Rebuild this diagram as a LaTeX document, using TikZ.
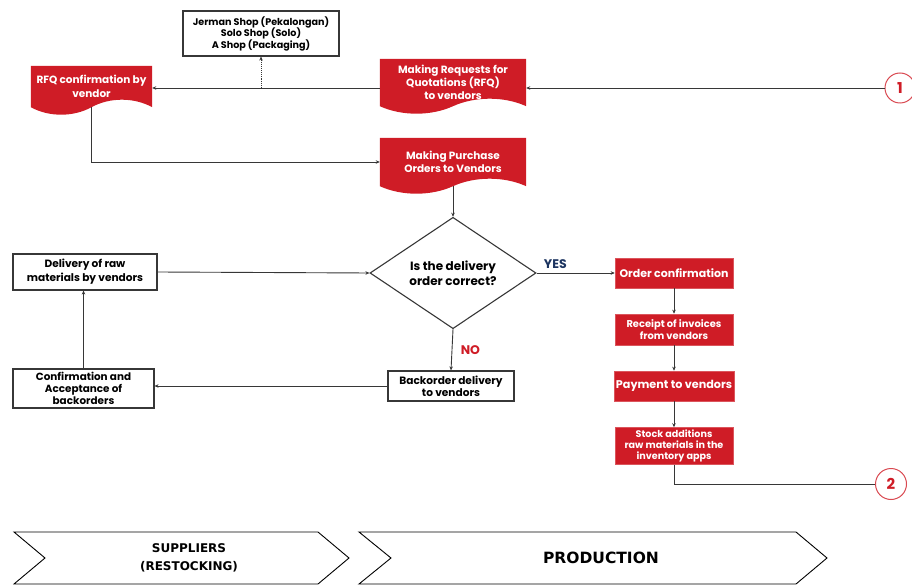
\documentclass[tikz,border=0pt]{standalone}
\usepackage{fontspec}
\setmainfont{Poppins}
\newfontfamily\chevfont{DejaVu Sans}
\usetikzlibrary{shapes.geometric,arrows.meta,calc,backgrounds}
\definecolor{myred}{RGB}{207,28,38}
\definecolor{linegray}{RGB}{55,55,55}
\definecolor{yesblue}{RGB}{28,52,96}
\newcommand\docfill[2]{%
\begin{pgfonlayer}{background}
\fill[myred] let \p1=(#1.south west), \p2=(#1.north east), \n1={\x2-\x1} in
 (\x1,\y2) -- (\x2,\y2) -- (\x2,\y1)
 .. controls ({\x2-0.15*\n1},{\y1+#2}) and ({\x2-0.35*\n1},{\y1+#2}) .. ({\x1+0.5*\n1},\y1)
 .. controls ({\x1+0.35*\n1},{\y1-#2}) and ({\x1+0.15*\n1},{\y1-#2}) .. (\x1,\y1) -- cycle;
\end{pgfonlayer}}
\newcommand\fsz[2]{\fontsize{#1}{#2}\selectfont\bfseries}
\begin{document}
\begin{tikzpicture}[x=1pt,y=-1pt,
  font=\fsz{10.5}{13},
  conn/.style={draw=linegray, line width=0.9pt, -{Stealth[length=4pt,width=3.5pt]}},
  whitebox/.style={draw=linegray, line width=1.1pt, fill=white, align=center, inner sep=2pt},
  redbox/.style={fill=myred, draw=myred!75!white, line width=0.6pt, text=white, align=center, minimum width=118pt, inner sep=2pt},
  docnode/.style={text=white, align=center, inner sep=0pt},
  circ/.style={circle, draw=myred!80!white, line width=1pt, text=myred, font=\fsz{15}{16}, minimum size=30pt, inner sep=0pt},
  chev/.style={draw=black, line width=0.9pt, fill=white},
  chevtext/.style={font=\chevfont\fontsize{12}{18}\selectfont\bfseries, align=center}
]
\useasboundingbox (0,0) rectangle (912,585);

% document-shaped red nodes
\node[docnode, minimum width=121pt, minimum height=41pt, font=\fsz{10.5}{14}] (rfqc) at (91.5,86.5) {RFQ confirmation by\\vendor};
\node[docnode, minimum width=146pt, minimum height=47pt] (mkreq) at (453,82.5) {Making Requests for\\Quotations (RFQ)\\to vendors};
\node[docnode, minimum width=146pt, minimum height=48pt] (mkpo) at (453,162) {Making Purchase\\Orders to Vendors};
\docfill{rfqc}{10pt}
\docfill{mkreq}{10pt}
\docfill{mkpo}{10pt}

% white boxes
\node[whitebox, minimum width=156pt, minimum height=45pt, font=\fsz{9.6}{11.5}] (shop) at (261,33.5) {Jerman Shop (Pekalongan)\\Solo Shop (Solo)\\A Shop (Packaging)};
\node[whitebox, minimum width=144pt, minimum height=36pt, font=\fsz{10.6}{14}] (deliv) at (85,272) {Delivery of raw\\materials by vendors};
\node[whitebox, minimum width=141pt, minimum height=39pt, font=\fsz{10.4}{12}] (conf) at (83.5,388.5) {Confirmation and\\Acceptance of\\backorders};
\node[whitebox, minimum width=126pt, minimum height=30pt, font=\fsz{10.6}{12}] (back) at (451,386) {Backorder delivery\\to vendors};

% decision
\node[diamond, draw=linegray, line width=1.1pt, minimum width=166pt, minimum height=111pt, inner sep=0pt, align=center, font=\fsz{12}{14.5}] (dia) at (453,273) {Is the delivery\\order correct?};

% red boxes
\node[redbox, minimum height=30pt, font=\fsz{11}{13}] (ordc) at (674,273) {Order confirmation};
\node[redbox, minimum height=31pt, font=\fsz{9.9}{12}] (recp) at (674,329.5) {Receipt of invoices\\from vendors};
\node[redbox, minimum height=30pt, font=\fsz{11.2}{13}] (pay) at (674,386) {Payment to vendors};
\node[redbox, minimum height=36pt, font=\fsz{9.6}{11.3}] (stock) at (674,446) {Stock additions\\raw materials in the\\inventory apps};

% connector circles
\node[circ] (c1) at (900,88) {1};
\node[circ, minimum size=31pt] (c2) at (891,484) {2};

% connectors
\draw[conn] (c1.west) -- (c1.west -| mkreq.east);
\draw[conn] (mkreq.west |- c1.west) -- (rfqc.east |- c1.west);
\draw[conn, densely dotted, line width=0.7pt] (shop.south |- c1.west) -- (shop.south);
\draw[conn] (rfqc.south) |- (mkpo.west);
\draw[conn] (mkpo.south) -- (dia.north);
\draw[conn] (deliv.east) -- (dia.west);
\draw[conn] (dia.east) -- node[pos=0.24, above=1pt, text=yesblue, font=\fsz{12.5}{14}] (yes) {YES} (ordc.west);
\draw[conn] (dia.south) -- node[right=5pt, text=myred, font=\fsz{12.5}{14}] (no) {NO} (back.north);
\draw[conn] (back.west) -- (back.west -| conf.east);
\draw[conn] (conf.north) -- (conf.north |- deliv.south);
\draw[conn] (ordc.south) -- (recp.north);
\draw[conn] (recp.south) -- (pay.north);
\draw[conn] (pay.south) -- (stock.north);
\draw[draw=linegray, line width=0.9pt] (stock.south) |- (c2.west);

% bottom chevrons
\draw[chev] (14,532) -- (318,532) -- (349,558) -- (318,584) -- (14,584) -- (45,558) -- cycle;
\node[chevtext] (sup) at (189,558) {SUPPLIERS\\(RESTOCKING)};
\draw[chev] (359,532) -- (796,532) -- (827,558) -- (796,584) -- (359,584) -- (391,558) -- cycle;
\node[chevtext, font=\chevfont\fontsize{15.5}{18}\selectfont\bfseries] (prod) at (601,558) {PRODUCTION};
\end{tikzpicture}
\end{document}
